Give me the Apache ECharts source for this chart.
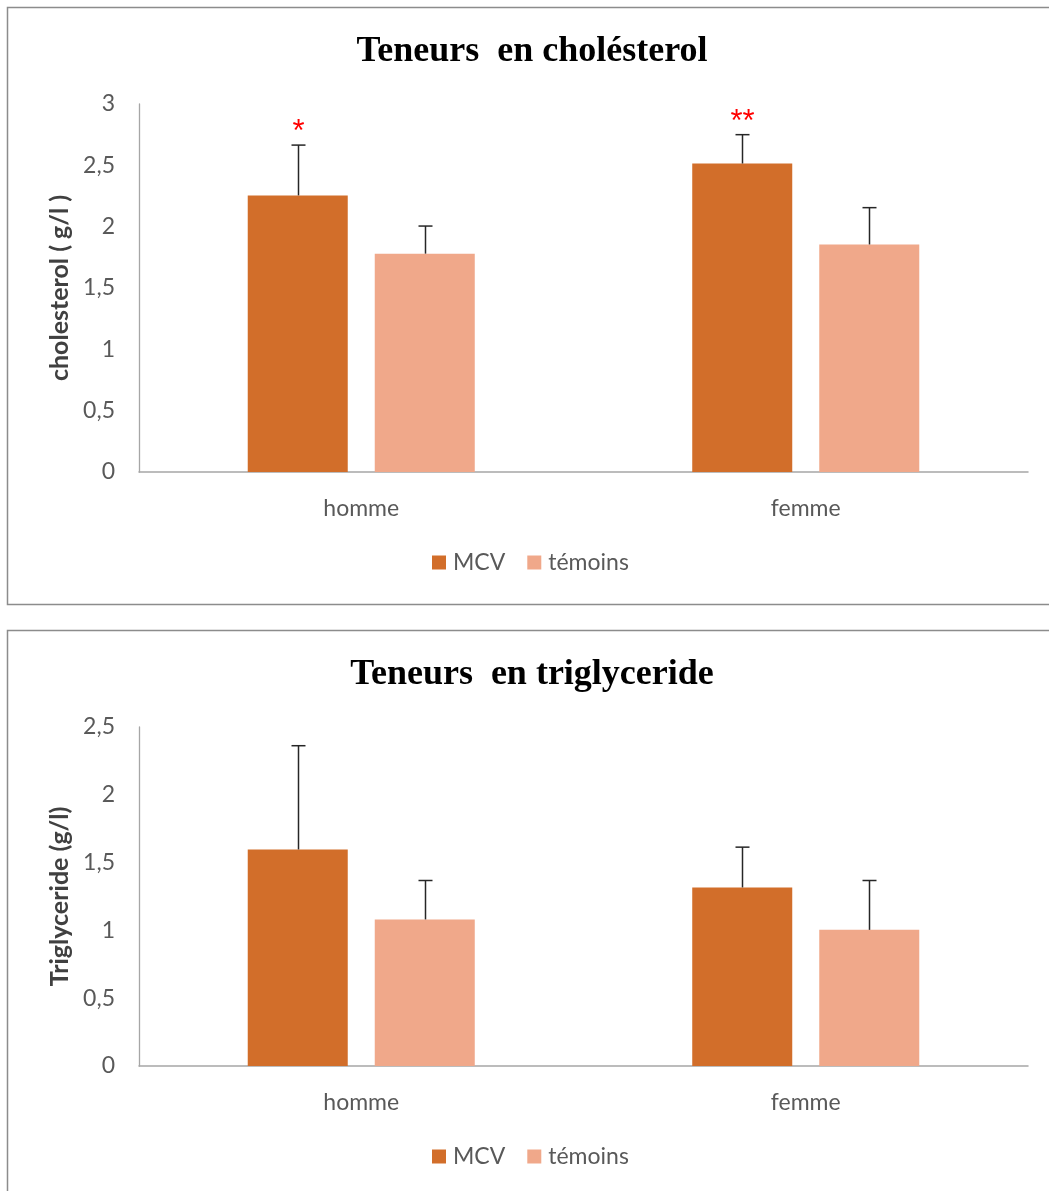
<!DOCTYPE html>
<html>
<head>
<meta charset="utf-8">
<script src="https://cdn.jsdelivr.net/npm/echarts@6/dist/echarts.min.js"></script>
<style>
  html, body { margin: 0; padding: 0; background: #ffffff; }
  #chart { width: 1049px; height: 1191px; }
</style>
</head>
<body>
<div id="chart"></div>
<script>
// Groups and series
const categories = ['homme', 'femme'];
const seriesNames = ['MCV', 'témoins'];

// Cholesterol (g/l): means and upper standard deviations
const cholMCV = [2.255, 2.515];
const cholMCVErr = [0.41, 0.235];
const cholTemoins = [1.78, 1.855];
const cholTemoinsErr = [0.225, 0.30];
const cholSignif = ['*', '**'];

// Triglycerides (g/l): means and upper standard deviations
const trigMCV = [1.597, 1.317];
const trigMCVErr = [0.765, 0.297];
const trigTemoins = [1.081, 1.004];
const trigTemoinsErr = [0.287, 0.364];
const trigSignif = ['', ''];

// Value axes
const cholAxis = { min: 0, max: 3, interval: 0.5 };
const trigAxis = { min: 0, max: 2.5, interval: 0.5 };

const COLOR_MCV = '#d26e2a';
const COLOR_TEM = '#f0a88a';
const TEXT_GREY = '#595959';
const AXIS_GREY = '#a6a6a6';
const SANS = 'Lato';
const BAR_W = 0.225;   // share of the category band
const BAR_GAP = 0.27;  // gap between the two bars, relative to bar width

const fmt = v => String(v).replace('.', ',');

// Upper error bars (and significance stars) drawn over one bar series
function errorSeries(gridIdx, means, errs, side, marks) {
  return {
    type: 'custom',
    name: 'err' + gridIdx + side,
    xAxisIndex: gridIdx,
    yAxisIndex: gridIdx,
    silent: true,
    z: 5,
    data: means.map((m, i) => [i, m, errs[i]]),
    renderItem: function (params, api) {
      const i = api.value(0), v = api.value(1), e = api.value(2);
      const band = api.size([1, 0])[0];
      const dx = side * band * BAR_W * (1 + BAR_GAP) / 2;
      const base = api.coord([i, v]);
      const top = api.coord([i, v + e]);
      const x = Math.round(base[0] + dx) + 0.5;
      const st = { stroke: '#262626', lineWidth: 1.5 };
      const children = [
        { type: 'line', shape: { x1: x, y1: base[1], x2: x, y2: top[1] }, style: st },
        { type: 'line', shape: { x1: x - 7, y1: top[1], x2: x + 7, y2: top[1] }, style: st }
      ];
      const mark = marks ? marks[params.dataIndex] : '';
      if (mark) {
        children.push({
          type: 'text',
          style: {
            x: x, y: top[1] + 3, text: mark,
            fill: '#ff0000', font: '31px "Liberation Sans"',
            align: 'center', verticalAlign: 'bottom'
          }
        });
      }
      return { type: 'group', children: children };
    }
  };
}

function barSeries(gridIdx, name, data, color) {
  return {
    type: 'bar',
    name: name,
    xAxisIndex: gridIdx,
    yAxisIndex: gridIdx,
    data: data,
    barWidth: (BAR_W * 100) + '%',
    barGap: (BAR_GAP * 100) + '%',
    itemStyle: { color: color },
    emphasis: { disabled: true }
  };
}

function catAxis(gridIdx) {
  return {
    type: 'category',
    gridIndex: gridIdx,
    data: categories,
    axisLine: { lineStyle: { color: AXIS_GREY, width: 1.5 } },
    axisTick: { show: false },
    axisLabel: { color: TEXT_GREY, fontSize: 23, fontFamily: SANS, margin: 25 }
  };
}

function valAxis(gridIdx, ax, name) {
  return {
    type: 'value',
    gridIndex: gridIdx,
    min: ax.min, max: ax.max, interval: ax.interval,
    name: name,
    nameLocation: 'middle',
    nameGap: 67,
    nameTextStyle: { color: '#404040', fontSize: 25, fontWeight: 'bold', fontFamily: SANS },
    axisLine: { show: true, lineStyle: { color: AXIS_GREY, width: 1.3 } },
    axisTick: { show: false },
    splitLine: { show: false },
    axisLabel: { color: TEXT_GREY, fontSize: 23, fontFamily: SANS, margin: 24, formatter: fmt }
  };
}

function legendAt(top) {
  return {
    data: seriesNames,
    left: 432,
    top: top,
    padding: 0,
    icon: 'rect',
    itemWidth: 14,
    itemHeight: 14,
    itemGap: 22,
    selectedMode: false,
    textStyle: { color: TEXT_GREY, fontSize: 23, fontFamily: SANS, padding: [0, 0, 0, 2] }
  };
}

const titleStyle = { fontFamily: 'Liberation Serif', fontWeight: 'bold', fontSize: 36, color: '#000000' };

const chart = echarts.init(document.getElementById('chart'), null, { renderer: 'canvas' });
chart.setOption({
  animation: false,
  backgroundColor: '#ffffff',
  title: [
    { text: 'Teneurs  en cholésterol', left: 527, textAlign: 'center', top: 29, textStyle: titleStyle },
    { text: 'Teneurs  en triglyceride', left: 527, textAlign: 'center', top: 652, textStyle: titleStyle }
  ],
  legend: [legendAt(551), legendAt(1145)],
  grid: [
    { left: 139, top: 104, width: 889, height: 368 },
    { left: 139, top: 727, width: 889, height: 339 }
  ],
  xAxis: [catAxis(0), catAxis(1)],
  yAxis: [valAxis(0, cholAxis, 'cholesterol ( g/l )'), valAxis(1, trigAxis, 'Triglyceride (g/l)')],
  graphic: [
    { type: 'rect', silent: true, shape: { x: 7.5, y: 7.5, width: 1080, height: 597 },
      style: { fill: null, stroke: '#8c8c8c', lineWidth: 1.5 } },
    { type: 'rect', silent: true, shape: { x: 7.5, y: 630.5, width: 1080, height: 600 },
      style: { fill: null, stroke: '#8c8c8c', lineWidth: 1.5 } }
  ],
  series: [
    barSeries(0, 'MCV', cholMCV, COLOR_MCV),
    barSeries(0, 'témoins', cholTemoins, COLOR_TEM),
    errorSeries(0, cholMCV, cholMCVErr, -1, cholSignif),
    errorSeries(0, cholTemoins, cholTemoinsErr, 1, null),
    barSeries(1, 'MCV', trigMCV, COLOR_MCV),
    barSeries(1, 'témoins', trigTemoins, COLOR_TEM),
    errorSeries(1, trigMCV, trigMCVErr, -1, trigSignif),
    errorSeries(1, trigTemoins, trigTemoinsErr, 1, null)
  ]
});
</script>
</body>
</html>
